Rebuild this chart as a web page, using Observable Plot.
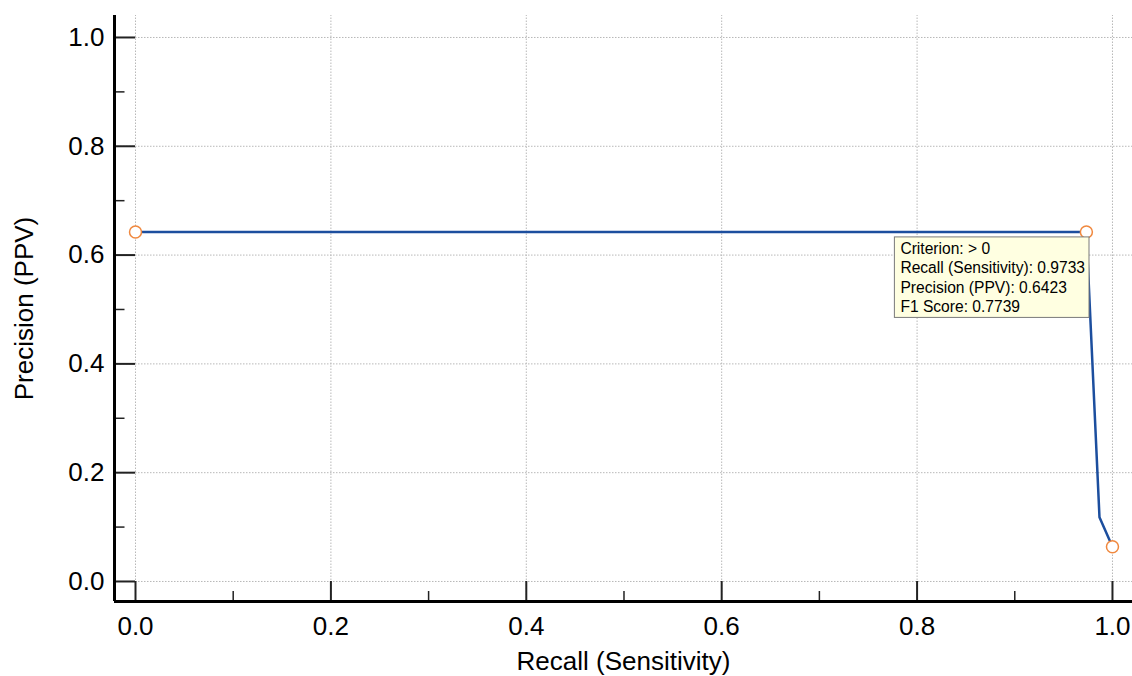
<!DOCTYPE html>
<html>
<head>
<meta charset="utf-8">
<script src="https://cdn.jsdelivr.net/npm/d3@7"></script>
<script src="https://cdn.jsdelivr.net/npm/@observablehq/plot@0.6"></script>
<style>
  html, body { margin: 0; padding: 0; background: #fff; }
  #chart svg { display: block; }
</style>
</head>
<body>
<div id="chart"></div>
<script>
// Curve data
const recall = [0, 0.9733, 0.9867, 1.0];
const precision = [0.6423, 0.6423, 0.118, 0.064];
// Highlighted points
const markRecall = [0, 0.9733, 1.0];
const markPrecision = [0.6423, 0.6423, 0.064];
// Ticks
const majorTicks = [0, 0.2, 0.4, 0.6, 0.8, 1.0];
const minorTicks = [0.1, 0.3, 0.5, 0.7, 0.9];
// Tooltip
const tooltipLines = ["Criterion: > 0", "Recall (Sensitivity): 0.9733", "Precision (PPV): 0.6423", "F1 Score: 0.7739"];
const tooltipAt = {x: 0.9733, y: 0.6423};

const xLo = -0.0215, xHi = 1.0205;
const yLo = -0.0368, yHi = 1.0404;

const curve = recall.map((r, i) => ({r, p: precision[i]}));
const marks = markRecall.map((r, i) => ({r, p: markPrecision[i]}));

const font = "Liberation Sans, Arial, sans-serif";

const chart = Plot.plot({
  width: 1132,
  height: 676,
  marginLeft: 114,
  marginRight: 0,
  marginTop: 15,
  marginBottom: 75,
  style: {fontFamily: font, background: "#fff", color: "#000"},
  x: {domain: [xLo, xHi]},
  y: {domain: [yLo, yHi]},
  marks: [
    // grid
    Plot.ruleX(majorTicks, {x: d => d, y1: yLo, y2: yHi, stroke: "#b8b8b8", strokeDasharray: "1.5,1.5", strokeWidth: 1}),
    Plot.ruleY(majorTicks, {y: d => d, x1: xLo, x2: xHi, stroke: "#b8b8b8", strokeDasharray: "1.5,1.5", strokeWidth: 1}),
    // ticks (inward)
    Plot.ruleX(majorTicks, {x: d => d, y1: yLo, y2: 0, stroke: "#222", strokeWidth: 2}),
    Plot.ruleX(minorTicks, {x: d => d, y1: yLo, y2: yLo / 2, stroke: "#222", strokeWidth: 1.5}),
    Plot.ruleY(majorTicks, {y: d => d, x1: xLo, x2: 0, stroke: "#222", strokeWidth: 2}),
    Plot.ruleY(minorTicks, {y: d => d, x1: xLo, x2: xLo / 2, stroke: "#222", strokeWidth: 1.5}),
    // axis lines
    Plot.ruleY([yLo], {x1: xLo, x2: xHi, stroke: "#000", strokeWidth: 3}),
    Plot.ruleX([xLo], {y1: yLo, y2: yHi, stroke: "#000", strokeWidth: 3}),
    // axes labels
    Plot.axisX(majorTicks, {tickSize: 0, tickPadding: 15, tickFormat: d3.format(".1f"),
      label: "Recall (Sensitivity)", labelAnchor: "center", labelArrow: "none", labelOffset: 68}),
    Plot.axisY(majorTicks, {tickSize: 0, tickPadding: 10, tickFormat: d3.format(".1f"),
      label: "Precision (PPV)", labelAnchor: "center", labelArrow: "none", labelOffset: 100}),
    // curve
    Plot.line(curve, {x: "r", y: "p", stroke: "#1c4e9e", strokeWidth: 2.5}),
    Plot.dot(marks, {x: "r", y: "p", r: 6, stroke: "#f0883e", fill: "#fff", strokeWidth: 1.5}),
    // tooltip text
    Plot.text([tooltipLines.join("\n")], {x: () => tooltipAt.x, y: () => tooltipAt.y, text: d => d,
      textAnchor: "start", lineAnchor: "top", dx: -186, dy: 8, lineHeight: 1.25,
      fill: "#000", className: "tooltip-text"})
  ]
});

document.getElementById("chart").appendChild(chart);

const setSize = (sel, px) => d3.select(chart).selectAll(sel).attr("font-size", px).style("font-size", px + "px");
setSize("g[aria-label='x-axis tick label'], g[aria-label='x-axis tick label'] text", 26);
setSize("g[aria-label='y-axis tick label'], g[aria-label='y-axis tick label'] text", 26);
setSize("g[aria-label='x-axis label'], g[aria-label='x-axis label'] text", 26);
setSize("g[aria-label='y-axis label'], g[aria-label='y-axis label'] text", 26);
setSize("g.tooltip-text, g.tooltip-text text", 15.6);

// tooltip box behind text
const tt = chart.querySelector("g.tooltip-text");
if (tt) {
  const bb = tt.getBBox();
  const rect = document.createElementNS("http://www.w3.org/2000/svg", "rect");
  rect.setAttribute("x", bb.x - 6);
  rect.setAttribute("y", bb.y - 3);
  rect.setAttribute("width", bb.width + 10);
  rect.setAttribute("height", bb.height + 5);
  rect.setAttribute("fill", "#ffffe1");
  rect.setAttribute("stroke", "#7a7a7a");
  rect.setAttribute("stroke-width", "1");
  tt.insertBefore(rect, tt.firstChild);
}
</script>
</body>
</html>
